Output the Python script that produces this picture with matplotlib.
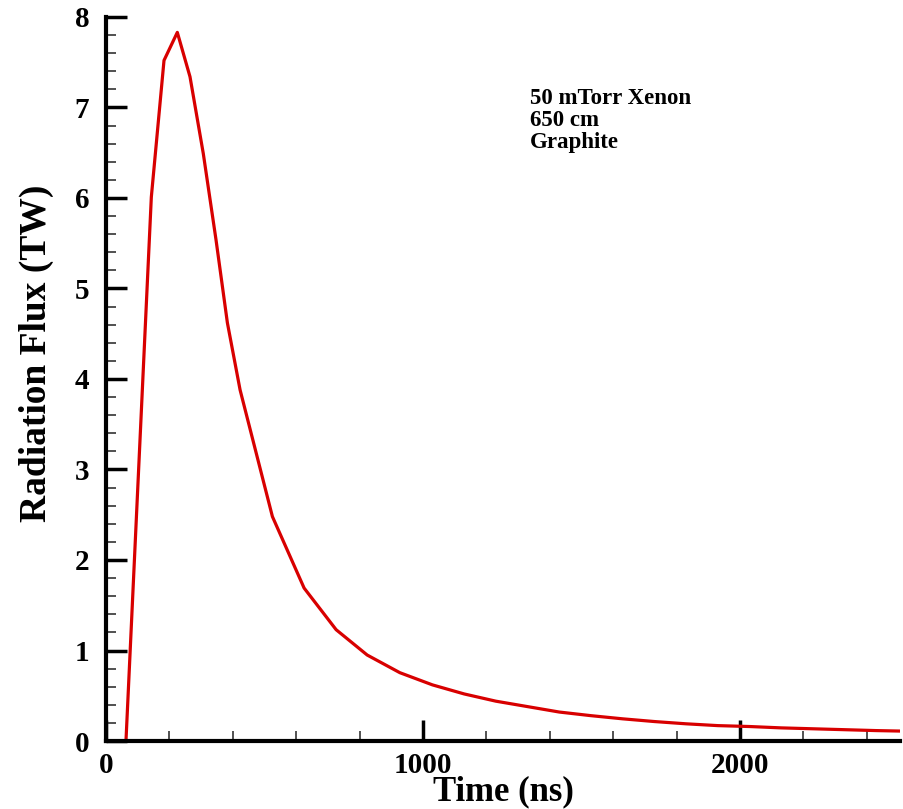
import matplotlib
matplotlib.use('Agg')
import matplotlib.pyplot as plt
from matplotlib.ticker import MultipleLocator

# data
time_ns = [63, 143, 183, 225, 265, 307, 347, 383, 423, 525, 625, 726, 824, 927,
           1030, 1130, 1230, 1330, 1430, 1530, 1630, 1730, 1830, 1930, 2030,
           2130, 2230, 2330, 2430, 2530]
flux_tw = [0.0, 6.01, 7.52, 7.83, 7.34, 6.49, 5.54, 4.62, 3.88, 2.48, 1.69,
           1.23, 0.95, 0.755, 0.62, 0.52, 0.44, 0.38, 0.32, 0.28, 0.245, 0.215,
           0.19, 0.17, 0.16, 0.145, 0.135, 0.125, 0.115, 0.108]
note_lines = ['50 mTorr Xenon', '650 cm', 'Graphite']

plt.rcParams['font.family'] = ['Liberation Serif', 'DejaVu Serif']
plt.rcParams['font.weight'] = 'bold'

fig = plt.figure(figsize=(9.04, 8.09), dpi=100)
ax = fig.add_axes([106 / 904, 68 / 809, 794 / 904, 724 / 809])

ax.plot(time_ns, flux_tw, color='#d80000', lw=2.3)

ax.set_xlim(0, 2505)
ax.set_ylim(0, 8)

for side in ['top', 'right']:
    ax.spines[side].set_visible(False)
for side in ['left', 'bottom']:
    ax.spines[side].set_linewidth(3)

ax.xaxis.set_major_locator(MultipleLocator(1000))
ax.xaxis.set_minor_locator(MultipleLocator(200))
ax.yaxis.set_major_locator(MultipleLocator(1))
ax.yaxis.set_minor_locator(MultipleLocator(0.2))
ax.tick_params(which='major', direction='in', length=15, width=2.5, labelsize=21)
ax.tick_params(axis='y', which='major', pad=12)
ax.tick_params(axis='x', which='major', pad=8)
ax.tick_params(which='minor', direction='in', length=7.5, width=1.2, color='#333333')
for lab in ax.get_xticklabels() + ax.get_yticklabels():
    lab.set_fontweight('bold')

ax.set_xlabel('Time (ns)', fontsize=25, fontweight='bold', labelpad=-3)
ax.set_ylabel('Radiation Flux (TW)', fontsize=27, fontweight='bold')
ax.yaxis.set_label_coords(-0.066, 0.535)

fig.text(530 / 904, 1 - 88 / 809, '\n'.join(note_lines), fontsize=16.5,
         fontweight='bold', va='top', ha='left', linespacing=1.05)

fig.savefig('out.png', dpi=100)
